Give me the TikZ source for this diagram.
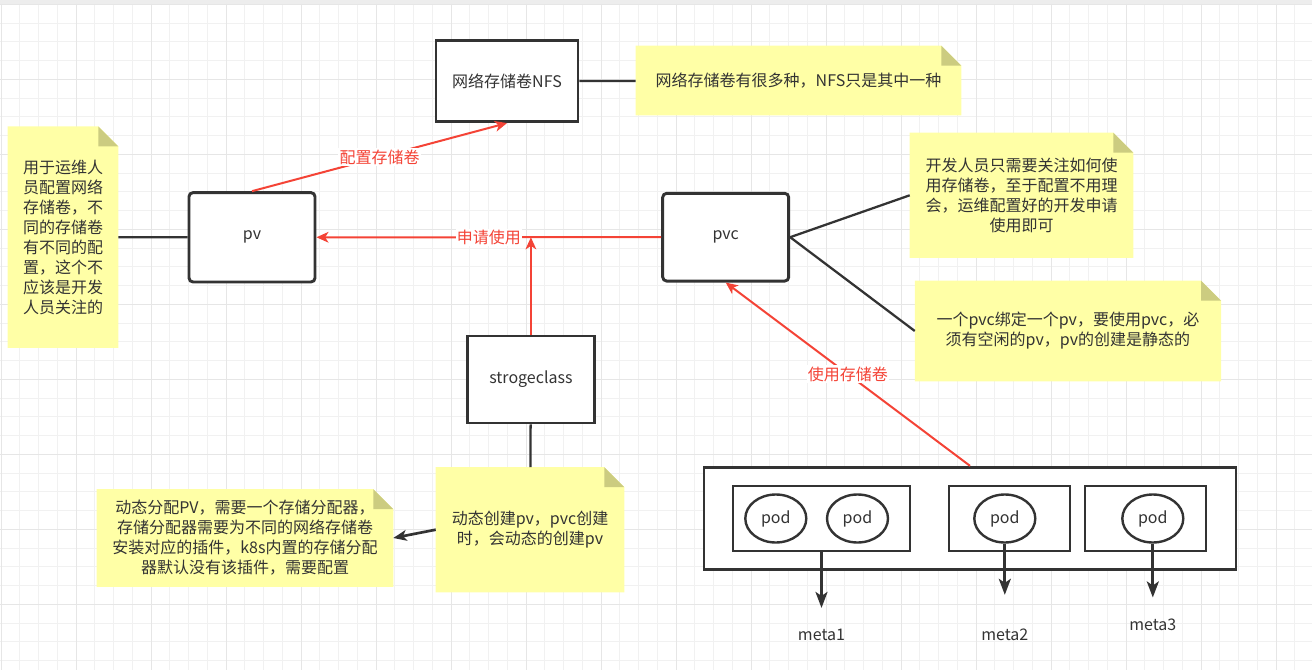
\documentclass[tikz,border=0pt]{standalone}
\usepackage{fontspec}
\setmainfont{Noto Sans CJK SC}
\usetikzlibrary{arrows.meta,backgrounds,shapes.geometric}
\definecolor{Ink}{HTML}{333333}
\definecolor{Alert}{HTML}{F44336}
\definecolor{Memo}{HTML}{FFFFA6}
\definecolor{MemoFold}{HTML}{CCCC80}
\definecolor{GridMinor}{HTML}{F1F1F1}
\definecolor{GridMajor}{HTML}{E6E6E6}

\begin{document}
\begin{tikzpicture}[
    x=0.75pt,y=-0.75pt,
    every node/.style={font=\fontsize{12}{15}\selectfont,text=Ink},
    block/.style={draw=Ink,line width=2.2pt,fill=white,inner sep=0pt},
    softblock/.style={block,rounded corners=3pt},
    memo/.style={align=center,inner sep=0pt},
    pod/.style={ellipse,draw=Ink,line width=1.8pt,fill=white,
      minimum width=45.75pt,minimum height=36pt,inner sep=0pt},
    usearrow/.style={-{Stealth[length=9pt,width=8pt,inset=2.5pt]},line width=1.5pt,draw=Alert},
    redlabel/.style={fill=white,text=Alert,inner sep=1pt},
    link/.style={draw=Ink,line width=1.7pt},
    darrow/.style={-{Stealth[length=12pt,width=9pt,inset=3pt]},line width=2pt,draw=Ink}
]
\useasboundingbox (0,0) rectangle (1312,670);

% storage side
\node[block,minimum width=106.5pt,minimum height=60.5pt] (nfs) at (507,81.3) {网络存储卷NFS};
\node[memo,minimum width=243.75pt,minimum height=51.75pt] (nfsnote) at (798.5,80.5) {网络存储卷有很多种，NFS只是其中一种};
\node[memo,minimum width=82.5pt,minimum height=165.75pt] (opsnote) at (63,237.2)
  {用于运维人\\员配置网络\\存储卷，不\\同的存储卷\\有不同的配\\置，这个不\\应该是开发\\人员关注的};
\node[softblock,minimum width=94.5pt,minimum height=67pt] (pv) at (252,237.3) {pv};
\node[softblock,minimum width=94.5pt,minimum height=65.8pt] (pvc) at (725.7,237.2) {pvc};
\node[block,minimum width=94.7pt,minimum height=65.25pt] (sc) at (530.9,379.5) {strogeclass};

% notes
\node[memo,minimum width=141pt,minimum height=93.5pt] (scnote) at (530,529.7)
  {动态创建pv，pvc创建\\时，会动态的创建pv};
\node[memo,minimum width=222pt,minimum height=73pt] (allocnote) at (245,538)
  {动态分配PV，需要一个存储分配器，\\存储分配器需要为不同的网络存储卷\\安装对应的插件，k8s内置的存储分配\\器默认没有该插件，需要配置};
\node[memo,minimum width=167.25pt,minimum height=93.5pt] (devnote) at (1021.5,195.3)
  {开发人员只需要关注如何使\\用存储卷，至于配置不用理\\会，运维配置好的开发申请\\使用即可};
\node[memo,minimum width=229.3pt,minimum height=75pt] (bindnote) at (1067.9,331)
  {一个pvc绑定一个pv，要使用pvc，必\\须有空闲的pv，pv的创建是静态的};

% pods
\node[block,minimum width=399pt,minimum height=76.5pt] (cluster) at (970,518.3) {};
\node[block,minimum width=132.75pt,minimum height=48.75pt] (box1) at (821.5,518.5) {};
\node[block,minimum width=90.75pt,minimum height=48.75pt] (box2) at (1009.5,518.5) {};
\node[block,minimum width=90.75pt,minimum height=48.75pt] (box3) at (1145.5,518.5) {};
\node[pod] (pod1) at (775.8,518.5) {pod};
\node[pod] (pod2) at (857.5,518.5) {pod};
\node[pod] (pod3) at (1004.8,518.5) {pod};
\node[pod] (pod4) at (1152.8,518.5) {pod};
\node[inner sep=0pt] (meta1) at (821.5,635) {meta1};
\node[inner sep=0pt] (meta2) at (1004.8,635) {meta2};
\node[inner sep=0pt] (meta3) at (1152.8,624.3) {meta3};

\draw[link] (nfs) -- (nfsnote);
\draw[link] (opsnote) -- (pv);
\draw[link] (pvc.east) -- (devnote.west);
\draw[link] (pvc.east) -- (bindnote.west);
\draw[link] (sc) -- (scnote);
\draw[darrow,-{Stealth[length=10pt,width=8pt,inset=2.5pt]}] (scnote.west) -- (allocnote.east);

\draw[usearrow] (pv.north) -- node[redlabel]{配置存储卷} (nfs.south);
\draw[usearrow] (pvc) -- node[redlabel]{申请使用} (pv);
\draw[usearrow] (sc.north) -- (sc.north |- pv.east);
\draw[usearrow] (cluster.north) -- node[redlabel]{使用存储卷} (pvc.south);

\draw[darrow,shorten >=15.75pt] (box1.south) -- (meta1.north);
\draw[darrow,shorten >=25.5pt] (pod3.south) -- (meta2.north);
\draw[darrow,shorten >=15.5pt] (pod4.south) -- (meta3.north);

\begin{scope}[on background layer]
  \fill[black!7] (0,0) rectangle (1312,4);
  \foreach \i in {0,...,69}
    \draw[GridMinor,line width=0.75pt] ({1+18.75*\i},4) -- ({1+18.75*\i},670);
  \foreach \i in {0,...,35}
    \draw[GridMinor,line width=0.75pt] (0,{4.3+18.75*\i}) -- (1312,{4.3+18.75*\i});
  \foreach \i in {0,...,17}
    \draw[GridMajor,line width=0.75pt] ({1+75*\i},4) -- ({1+75*\i},670);
  \foreach \i in {0,...,8}
    \draw[GridMajor,line width=0.75pt] (0,{4.3+75*\i}) -- (1312,{4.3+75*\i});
  % note paper with folded corner
  \foreach \n in {opsnote,nfsnote,devnote,bindnote,scnote,allocnote} {
    \fill[Memo] (\n.south west) -- (\n.north west) -- ([xshift=-15pt]\n.north east)
      -- ([yshift=-15pt]\n.north east) -- (\n.south east) -- cycle;
    \fill[MemoFold] ([xshift=-15pt]\n.north east) -- ([xshift=-15pt,yshift=-15pt]\n.north east)
      -- ([yshift=-15pt]\n.north east) -- cycle;
  }
\end{scope}
\end{tikzpicture}
\end{document}
